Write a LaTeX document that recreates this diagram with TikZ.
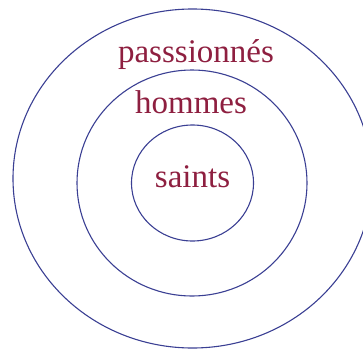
\documentclass[tikz,border=0pt]{standalone}
\usepackage{fontspec}
\setmainfont{Liberation Serif}
\usepackage{tikz}
\definecolor{ringblue}{HTML}{3A3F93}
\definecolor{wordred}{HTML}{8E1F40}
\tikzset{
  ring/.style={draw=ringblue,line width=1.1pt},
  word/.style={text=wordred,anchor=base,inner sep=0pt,font=\fontsize{33}{38}\selectfont}
}

\begin{document}
\begin{tikzpicture}[x=1pt,y=-1pt]
  \useasboundingbox (0,0) rectangle (363,353);
  \clip (0,0) rectangle (363,353);
  \draw[ring] (192.5,178.5) ellipse [x radius=179.5,y radius=169.5];
  \draw[ring] (192,183) ellipse [x radius=115,y radius=113];
  \draw[ring] (192.5,183) ellipse [x radius=61,y radius=58];
  \node[word] (pass) at (196,62) {passsionnés};
  \node[word] (hom) at (191,113) {hommes};
  \node[word] (saint) at (192.5,187) {saints};
\end{tikzpicture}
\end{document}
